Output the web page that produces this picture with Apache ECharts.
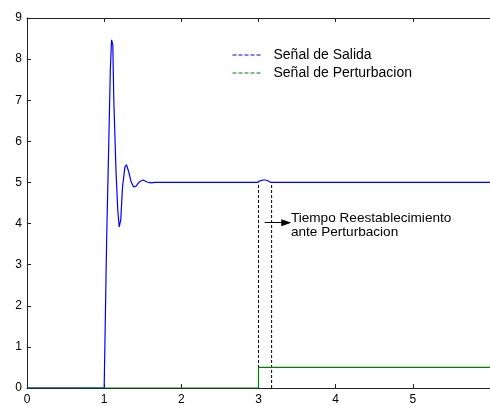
<!DOCTYPE html>
<html>
<head>
<meta charset="utf-8">
<script src="https://cdn.jsdelivr.net/npm/echarts@6/dist/echarts.min.js"></script>
<style>
html,body{margin:0;padding:0;background:#fff;}
#chart{width:490px;height:406px;}
</style>
</head>
<body>
<div id="chart"></div>
<script>
// ---- data ----
var seriesNames = ['Señal de Salida', 'Señal de Perturbacion'];
var outT = [0, 1.0, 1.022, 1.032, 1.054, 1.080, 1.096, 1.112, 1.125, 1.153, 1.176, 1.195, 1.215, 1.238, 1.269, 1.289, 1.318, 1.35, 1.382, 1.414, 1.452, 1.504, 1.555, 1.607, 1.66, 2.0, 2.98, 3.02, 3.06, 3.09, 3.12, 3.16, 4.0, 5.0, 6.0];
var outY = [0, 0, 0, 3.6, 5.47, 7.74, 8.47, 8.35, 7.0, 5.30, 4.33, 3.92, 4.09, 4.89, 5.38, 5.43, 5.26, 5.01, 4.89, 4.91, 5.01, 5.06, 5.01, 4.99, 5.0, 5.0, 5.0, 5.04, 5.06, 5.06, 5.04, 5.0, 5.0, 5.0, 5.0];
var pertT = [0, 3.0, 3.0, 6.0];
var pertY = [0, 0, 0.5, 0.5];
var markerT = [3.0, 3.17];          // dashed vertical guide lines
var markerTop = 5.0;
var arrowFrom = [3.08, 4.02];
var arrowTo = [3.36, 4.02];
var noteText = ['Tiempo Reestablecimiento', 'ante Perturbacion'];
var notePos = [3.42, 3.97];
var xTicks = [0, 1, 2, 3, 4, 5];
var yTicks = [0, 1, 2, 3, 4, 5, 6, 7, 8, 9];

function pairs(a, b) { return a.map(function (v, i) { return [v, b[i]]; }); }

var FONT = 'Liberation Sans, Arial, sans-serif';
var chart = echarts.init(document.getElementById('chart'), null, {renderer: 'canvas'});

var guideSeries = markerT.map(function (t, i) {
  return {
    type: 'line',
    name: 'guide' + i,
    data: [[t, 0], [t, markerTop]],
    symbol: 'none',
    silent: true,
    z: 1,
    lineStyle: {color: '#000', width: 1, type: [3, 2]}
  };
});

guideSeries[0].markLine = {
  silent: true,
  symbol: ['none', 'triangle'],
  symbolSize: [7, 10],
  label: {show: false},
  lineStyle: {color: '#000', width: 1, type: 'solid'},
  data: [[{coord: arrowFrom}, {coord: arrowTo}]]
};
guideSeries[0].markPoint = {
  silent: true,
  symbol: 'circle',
  symbolSize: 0,
  data: [{coord: notePos}],
  label: {
    show: true,
    position: 'right',
    distance: 0,
    formatter: noteText.join('\n'),
    color: '#000',
    fontFamily: FONT,
    fontSize: 13.6,
    lineHeight: 14,
    align: 'left'
  }
};

var option = {
  animation: false,
  backgroundColor: '#fff',
  grid: {left: 27, top: 18, bottom: 18, right: -4},
  legend: {
    show: true,
    data: seriesNames,
    orient: 'vertical',
    left: 232,
    top: 48,
    padding: 0,
    itemGap: 4,
    itemWidth: 30,
    itemHeight: 14,
    textStyle: {fontFamily: FONT, fontSize: 14, color: '#000', padding: [0, 0, 0, 6]},
    itemStyle: {opacity: 0},
    lineStyle: {type: [4, 2], width: 1, opacity: 1}
  },
  xAxis: [{
    type: 'value', min: 0, max: 6, interval: 1,
    axisLine: {show: true, lineStyle: {color: '#222', width: 1}},
    axisTick: {show: true, inside: true, length: 4, lineStyle: {color: '#222'}},
    axisLabel: {
      color: '#000', fontFamily: FONT, fontSize: 12, margin: 6, showMaxLabel: false,
      formatter: function (v) { return xTicks.indexOf(v) >= 0 ? String(v) : ''; }
    },
    splitLine: {show: false}
  }, {
    type: 'value', position: 'top', min: 0, max: 6, interval: 1,
    axisLine: {show: true, onZero: false, lineStyle: {color: '#222', width: 1}},
    axisTick: {show: true, inside: true, length: 4, lineStyle: {color: '#222'}},
    axisLabel: {show: false},
    splitLine: {show: false}
  }],
  yAxis: [{
    type: 'value', min: 0, max: 9, interval: 1,
    axisLine: {show: true, lineStyle: {color: '#222', width: 1}},
    axisTick: {show: true, inside: true, length: 4, lineStyle: {color: '#222'}},
    axisLabel: {
      color: '#000', fontFamily: FONT, fontSize: 12, margin: 5,
      formatter: function (v) { return yTicks.indexOf(v) >= 0 ? String(v) : ''; }
    },
    splitLine: {show: false}
  }],
  series: [{
    type: 'line',
    name: seriesNames[0],
    data: pairs(outT, outY),
    symbol: 'none',
    z: 2,
    color: '#0000ff',
    lineStyle: {color: '#0000ff', width: 1.2}
  }, {
    type: 'line',
    name: seriesNames[1],
    data: pairs(pertT, pertY),
    symbol: 'none',
    z: 3,
    color: '#008000',
    lineStyle: {color: '#008000', width: 1.2}
  }].concat(guideSeries)
};
chart.setOption(option);
</script>
</body>
</html>
